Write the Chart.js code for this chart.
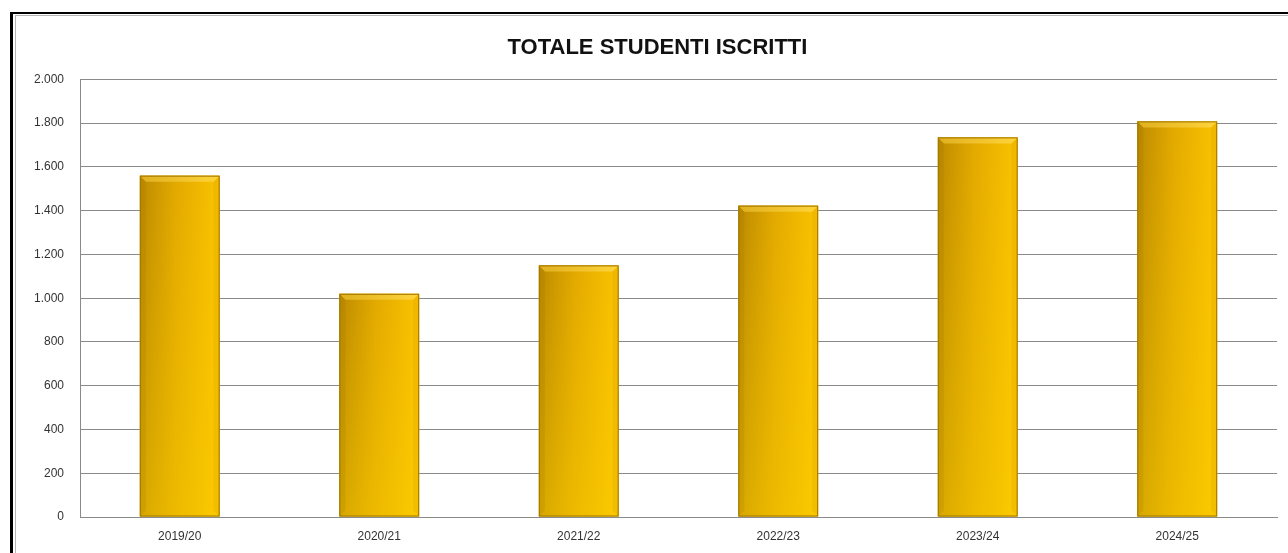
<!DOCTYPE html>
<html lang="it">
<head>
    <meta charset="UTF-8">
    <title>Totale studenti iscritti</title>
    <style>
        body {
            margin: 0;
            background: #fff;
            font-family: "Liberation Sans", Arial, sans-serif;
        }

        .frame {
            position: absolute;
            left: 10px;
            top: 12px;
            width: 1290px;
            height: 560px;
            border-left: 3px solid #000;
            border-top: 2px solid #000;
        }

        .frame-inner {
            position: absolute;
            left: 2px;
            top: 1px;
            right: 0;
            bottom: 0;
            border-left: 1px solid #b5b5b5;
            border-top: 1px solid #b5b5b5;
        }

        .wrap {
            position: absolute;
            left: 0;
            top: 0;
            width: 1288px;
            height: 553px;
        }
    </style>
    <script src="https://cdn.jsdelivr.net/npm/chart.js"></script>
</head>
<body>
    <div class="frame"><div class="frame-inner"></div></div>
    <div class="wrap"><canvas id="myChart"></canvas></div>

    <script>
        var anni = ['2019/20', '2020/21', '2021/22', '2022/23', '2023/24', '2024/25'];
        var iscritti = [1560, 1020, 1150, 1423, 1735, 1808];
        var titolo = 'TOTALE STUDENTI ISCRITTI';

        function formatta(v) {
            return String(v).replace(/\B(?=(\d{3})+(?!\d))/g, '.');
        }

        // sposta un po' il titolo verso destra
        var titoloDx = {
            id: 'titoloDx',
            afterLayout: function (chart) {
                if (chart.titleBlock) chart.titleBlock.left = 38;
            }
        };

        // barre dorate con bordo smussato
        var barreOro = {
            id: 'barreOro',
            afterDatasetsDraw: function (chart) {
                var ctx = chart.ctx;
                chart.getDatasetMeta(0).data.forEach(function (bar) {
                    var p = bar.getProps(['x', 'y', 'width', 'base'], true);
                    var x0 = p.x - p.width / 2, x1 = p.x + p.width / 2;
                    var top = p.y, bot = p.base, b = 6;

                    var g = ctx.createLinearGradient(x0, 0, x1, 0);
                    g.addColorStop(0, '#bc8a00');
                    g.addColorStop(0.45, '#e2a900');
                    g.addColorStop(1, '#fbc300');
                    ctx.fillStyle = g;
                    ctx.fillRect(x0, top, p.width, bot - top);

                    var gv = ctx.createLinearGradient(0, top, 0, bot);
                    gv.addColorStop(0, 'rgba(255,215,0,0)');
                    gv.addColorStop(1, 'rgba(255,212,0,0.4)');
                    ctx.fillStyle = gv;
                    ctx.fillRect(x0, top, p.width, bot - top);

                    // smusso superiore
                    var gt = ctx.createLinearGradient(x0, 0, x1, 0);
                    gt.addColorStop(0, '#e0b020');
                    gt.addColorStop(1, '#ffd43a');
                    ctx.fillStyle = gt;
                    ctx.beginPath();
                    ctx.moveTo(x0, top);
                    ctx.lineTo(x1, top);
                    ctx.lineTo(x1 - b, top + b);
                    ctx.lineTo(x0 + b, top + b);
                    ctx.closePath();
                    ctx.fill();

                    // lati
                    ctx.fillStyle = 'rgba(150,105,0,0.15)';
                    ctx.beginPath();
                    ctx.moveTo(x0, top);
                    ctx.lineTo(x0 + b, top + b);
                    ctx.lineTo(x0 + b, bot - b);
                    ctx.lineTo(x0, bot);
                    ctx.closePath();
                    ctx.fill();
                    ctx.fillStyle = 'rgba(190,130,0,0.15)';
                    ctx.beginPath();
                    ctx.moveTo(x1, top);
                    ctx.lineTo(x1 - b, top + b);
                    ctx.lineTo(x1 - b, bot - b);
                    ctx.lineTo(x1, bot);
                    ctx.closePath();
                    ctx.fill();

                    ctx.strokeStyle = '#a07600';
                    ctx.lineWidth = 1;
                    ctx.strokeRect(x0 + 0.5, top + 0.5, p.width - 1, bot - top - 1);
                });
            }
        };

        new Chart(document.getElementById('myChart'), {
            type: 'bar',
            data: {
                labels: anni,
                datasets: [{
                    label: 'Iscritti',
                    data: iscritti,
                    backgroundColor: '#e0a800',
                    borderWidth: 0,
                    barPercentage: 0.4,
                    categoryPercentage: 1.0
                }]
            },
            plugins: [barreOro, titoloDx],
            options: {
                responsive: true,
                maintainAspectRatio: false,
                animation: false,
                layout: { padding: { top: 0, right: 11, bottom: 0, left: 0 } },
                plugins: {
                    legend: { display: false },
                    tooltip: { enabled: false },
                    title: {
                        display: true,
                        text: titolo,
                        color: '#111',
                        font: { family: 'Liberation Sans', size: 22, weight: 'bold' },
                        padding: { top: 35, bottom: 18 }
                    }
                },
                scales: {
                    x: {
                        grid: { display: false, drawTicks: false },
                        border: { display: true, color: '#8a8a8a' },
                        ticks: {
                            color: '#333',
                            padding: 12,
                            font: { family: 'Liberation Sans', size: 12 }
                        },
                        afterFit: function (s) { s.height = 36; }
                    },
                    y: {
                        min: 0,
                        max: 2000,
                        grid: { color: '#8a8a8a', drawTicks: false },
                        border: { display: true, color: '#8a8a8a' },
                        ticks: {
                            stepSize: 200,
                            color: '#333',
                            padding: 16,
                            font: { family: 'Liberation Sans', size: 12 },
                            callback: function (v) { return formatta(v); }
                        },
                        afterFit: function (s) { s.width = 80; }
                    }
                }
            }
        });
    </script>
</body>
</html>
